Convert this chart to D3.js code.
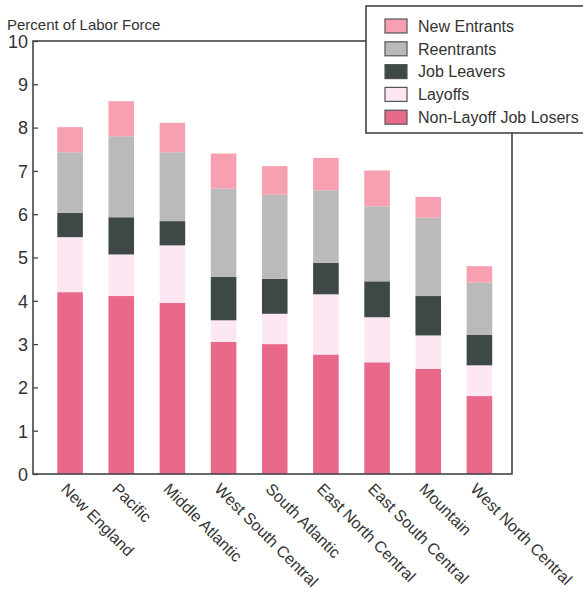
<!DOCTYPE html>
<html>
<head>
<meta charset="utf-8">
<script src="https://cdn.jsdelivr.net/npm/d3@7"></script>
<style>
  body { margin: 0; background: #fff; }
  text { font-family: "Liberation Sans", Arial, sans-serif; fill: #333; }
</style>
</head>
<body>
<div class="chart"></div>
<script>
// values, percent of labor force
const regions = ["New England", "Pacific", "Middle Atlantic", "West South Central", "South Atlantic",
  "East North Central", "East South Central", "Mountain", "West North Central"];
const nonLayoff   = [4.20, 4.11, 3.95, 3.05, 3.00, 2.76, 2.58, 2.43, 1.80];
const layoffs     = [1.27, 0.96, 1.33, 0.50, 0.70, 1.39, 1.04, 0.77, 0.71];
const jobLeavers  = [0.56, 0.86, 0.56, 1.00, 0.81, 0.73, 0.83, 0.91, 0.70];
const reentrants  = [1.40, 1.87, 1.59, 2.04, 1.94, 1.67, 1.73, 1.81, 1.21];
const newEntrants = [0.58, 0.81, 0.68, 0.81, 0.66, 0.75, 0.83, 0.48, 0.38];
const yTicks = [0, 1, 2, 3, 4, 5, 6, 7, 8, 9, 10];

const keys = ["nonLayoff", "layoffs", "jobLeavers", "reentrants", "newEntrants"];
const labels = {
  newEntrants: "New Entrants", reentrants: "Reentrants", jobLeavers: "Job Leavers",
  layoffs: "Layoffs", nonLayoff: "Non-Layoff Job Losers"
};
const colors = {
  nonLayoff: "#e8698a", layoffs: "#fce7f3", jobLeavers: "#3e4847",
  reentrants: "#bababa", newEntrants: "#f6a0b1"
};

const rows = regions.map((r, i) => ({
  region: r, nonLayoff: nonLayoff[i], layoffs: layoffs[i], jobLeavers: jobLeavers[i],
  reentrants: reentrants[i], newEntrants: newEntrants[i]
}));

const width = 583, height = 592;
const plotL = 33, plotR = 512, plotT = 41, plotB = 474;

const svg = d3.select(".chart").append("svg")
  .attr("width", width).attr("height", height);

const x = d3.scaleBand().domain(regions).range([44.5, 505])
  .paddingInner(0.5).paddingOuter(0.25);
const y = d3.scaleLinear().domain([0, 10]).range([plotB, plotT]);

const series = d3.stack().keys(keys)(rows);

svg.append("g").selectAll("g")
  .data(series)
  .join("g")
  .attr("fill", d => colors[d.key])
  .selectAll("rect")
  .data(d => d)
  .join("rect")
  .attr("x", d => x(d.data.region))
  .attr("width", x.bandwidth())
  .attr("y", d => y(d[1]))
  .attr("height", d => y(d[0]) - y(d[1]));

// frame
svg.append("rect")
  .attr("x", plotL).attr("y", plotT)
  .attr("width", plotR - plotL).attr("height", plotB - plotT)
  .attr("fill", "none").attr("stroke", "#444").attr("stroke-width", 1.6);

// y axis
const yAxis = svg.append("g")
  .attr("transform", `translate(${plotL},0)`)
  .call(d3.axisRight(y).tickValues(yTicks).tickSize(5).tickFormat(d3.format("d")));
yAxis.select(".domain").remove();
yAxis.selectAll("line").attr("stroke", "#444").attr("stroke-width", 1.3);
yAxis.selectAll("text")
  .attr("x", -5).attr("dy", "0.35em")
  .attr("text-anchor", "end")
  .attr("fill", "#333")
  .style("font-size", "18px");

// x labels
svg.append("g").selectAll("text")
  .data(regions)
  .join("text")
  .attr("transform", d => `translate(${x(d) + x.bandwidth() / 2 - 10},${plotB + 16}) rotate(45)`)
  .style("font-size", "16px")
  .text(d => d);

// title
svg.append("text")
  .attr("x", 7).attr("y", 30)
  .style("font-size", "15px")
  .text("Percent of Labor Force");

// legend
const legend = svg.append("g");
legend.append("rect")
  .attr("x", 366).attr("y", 6).attr("width", 240).attr("height", 127)
  .attr("fill", "#fff").attr("stroke", "#444").attr("stroke-width", 1.6);

const legendKeys = keys.slice().reverse();
const item = legend.selectAll("g.item")
  .data(legendKeys)
  .join("g")
  .attr("class", "item")
  .attr("transform", (d, i) => `translate(385,${26 + i * 22.8})`);
item.append("rect")
  .attr("x", 0).attr("y", -7).attr("width", 22).attr("height", 14)
  .attr("fill", d => colors[d]).attr("stroke", "#555").attr("stroke-width", 1.2);
item.append("text")
  .attr("x", 33).attr("dy", "0.36em")
  .style("font-size", "16px")
  .text(d => labels[d]);
</script>
</body>
</html>
